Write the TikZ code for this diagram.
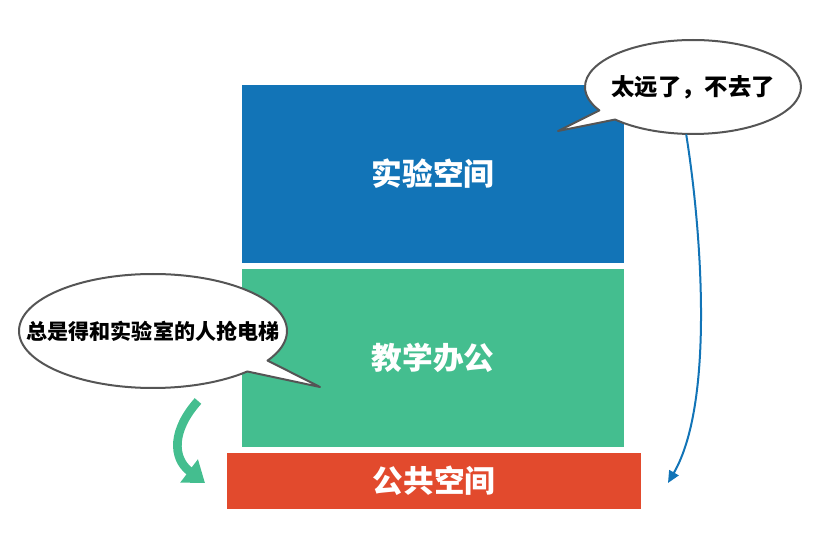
\documentclass[tikz,border=0pt]{standalone}
\usepackage{fontspec}
\newfontfamily\cjk{Noto Sans CJK SC}
\usetikzlibrary{arrows.meta,shapes.callouts}
\definecolor{labblue}{RGB}{18,116,183}
\definecolor{teachgreen}{RGB}{68,190,143}
\definecolor{publicred}{RGB}{226,74,45}
\definecolor{bubblegray}{RGB}{85,85,85}
\begin{document}
\begin{tikzpicture}[x=0.75pt,y=-0.75pt,line cap=round,line join=round,
 floor/.style={rectangle,inner sep=0pt,text=white,font=\cjk\bfseries\fontsize{23}{26}\selectfont},
 talk/.style={ellipse callout,draw=bubblegray,line width=1.5pt,fill=white,inner sep=0pt,
  callout pointer arc=14}]
\useasboundingbox (0,0) rectangle (826,549);
% Three floors of the building, stacked.
\node[floor,fill=labblue,minimum width=286.5pt,minimum height=133.5pt]
 (lab) at (433,174) {实验空间};
\node[floor,fill=teachgreen,minimum width=286.5pt,minimum height=133.5pt]
 (teach) at (433,358) {教学办公};
\node[floor,fill=publicred,minimum width=310.5pt,minimum height=42pt]
 (public) at (434,481) {公共空间};
% Speech bubbles; the text is boxed to zero width so the ellipse keeps its size.
\node[talk,minimum width=162pt,minimum height=70.5pt,
 callout absolute pointer={(558,131)},font=\cjk\bfseries\fontsize{17.5}{20}\selectfont]
 (far) at (693,87) {\makebox[0pt]{太远了，不去了}};
\node[talk,minimum width=201pt,minimum height=85.5pt,
 callout absolute pointer={(320,387)},font=\cjk\bfseries\fontsize{15.8}{18}\selectfont]
 (lift) at (153,331) {\makebox[0pt]{总是得和实验室的人抢电梯}};
% Where people actually go.
\coordinate (farend) at (668,483);
\coordinate (liftstart) at (198,401);
\coordinate (liftend) at (205,483);
\draw[-{Triangle[length=9pt,width=8pt]},labblue,line width=1.5pt]
 (far.262) .. controls (700,220) and (716,400) .. (farend);
\draw[-{Triangle[length=15pt,width=21pt]},teachgreen,line width=6.5pt,line cap=butt]
 (liftstart) .. controls (172,430) and (172,458) .. (liftend);
\end{tikzpicture}
\end{document}
